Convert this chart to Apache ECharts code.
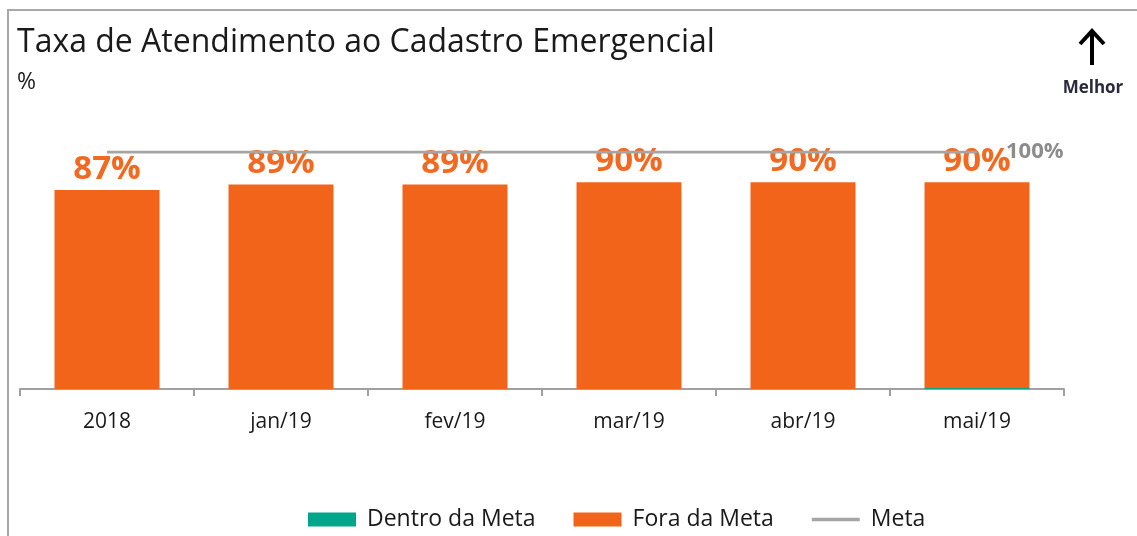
<!DOCTYPE html>
<html>
<head>
<meta charset="utf-8">
<script src="https://cdn.jsdelivr.net/npm/echarts@6/dist/echarts.min.js"></script>
<style>
  html, body { margin: 0; padding: 0; background: #fff; }
  #chart { width: 1137px; height: 536px; }
</style>
</head>
<body>
<div id="chart"></div>
<script>
// categorias do eixo x
const categories = ["2018", "jan/19", "fev/19", "mar/19", "abr/19", "mai/19"];
// valores das séries (%)
const dentroDaMeta = [0, 0, 0, 0, 0, 0.4];
const foraDaMeta = [87.0, 89.4, 89.4, 90.4, 90.4, 90.0];
const meta = [100, 100, 100, 100, 100, 100];

const FONT = "'Open Sans', sans-serif";
const chart = echarts.init(document.getElementById("chart"));

const option = {
  backgroundColor: "#fff",
  animation: false,
  title: [
    {
      text: "Taxa de Atendimento ao Cadastro Emergencial",
      left: 17,
      top: 27,
      padding: 0,
      textStyle: { fontFamily: FONT, fontSize: 32, fontWeight: "normal", color: "#1a1a1a" },
    },
    {
      text: "%",
      left: 17,
      top: 71,
      padding: 0,
      textStyle: { fontFamily: FONT, fontSize: 23, fontWeight: "normal", color: "#1a1a1a" },
    },
  ],
  graphic: [
    {
      // moldura
      type: "rect",
      z: -1,
      shape: { x: 8, y: 10, width: 1200, height: 600 },
      style: { fill: "none", stroke: "#a8a8a8", lineWidth: 2 },
    },
    {
      type: "line",
      shape: { x1: 1092, y1: 34, x2: 1092, y2: 65 },
      style: { stroke: "#000", lineWidth: 4 },
    },
    {
      type: "polyline",
      shape: { points: [[1080, 44], [1092, 31], [1104, 44]] },
      style: { stroke: "#000", lineWidth: 4, fill: null },
    },
    {
      type: "text",
      x: 1093,
      y: 88,
      style: {
        text: "Melhor",
        font: "bold 17px " + FONT,
        fill: "#2a2a3a",
        textAlign: "center",
        textVerticalAlign: "middle",
      },
    },
  ],
  legend: {
    left: 303,
    top: 503,
    itemWidth: 48,
    itemHeight: 14,
    itemGap: 38,
    textStyle: { fontFamily: FONT, fontSize: 23, color: "#1a1a1a", padding: [0, 0, 0, 6] },
    data: [
      { name: "Dentro da Meta", icon: "rect" },
      { name: "Fora da Meta", icon: "rect" },
      { name: "Meta", icon: "path://M0,0H44V3H0Z", itemStyle: { color: "#a5a5a5" } },
    ],
  },
  grid: { left: 20, right: 73, top: 152, bottom: 147 },
  xAxis: {
    type: "category",
    data: categories,
    axisLine: { lineStyle: { color: "#a0a0a0", width: 2 } },
    axisTick: { show: true, length: 7, lineStyle: { color: "#a0a0a0", width: 2 } },
    axisLabel: { fontFamily: FONT, fontSize: 21, color: "#1a1a1a", margin: 23 },
  },
  yAxis: [
    { type: "value", min: 0, max: 103.6, show: false },
    { type: "value", min: 0, max: 100, show: false },
  ],
  series: [
    {
      name: "Dentro da Meta",
      type: "bar",
      stack: "total",
      barWidth: 105,
      itemStyle: { color: "#00a68a" },
      data: dentroDaMeta,
    },
    {
      name: "Fora da Meta",
      type: "bar",
      stack: "total",
      barWidth: 105,
      itemStyle: { color: "#f26419" },
      label: {
        show: true,
        position: "top",
        distance: 4,
        fontFamily: FONT,
        fontSize: 33,
        fontWeight: "bold",
        color: "#f26a21",
        formatter: (p) => Math.round(p.value) + "%",
      },
      data: foraDaMeta,
    },
    {
      name: "Meta",
      type: "line",
      yAxisIndex: 1,
      symbol: "none",
      lineStyle: { color: "#a5a5a5", width: 3 },
      itemStyle: { color: "#a5a5a5" },
      endLabel: {
        show: true,
        distance: 29,
        fontFamily: FONT,
        fontSize: 22,
        fontWeight: "bold",
        color: "#8c8c8c",
        formatter: (p) => p.value + "%",
      },
      data: meta,
    },
  ],
};

chart.setOption(option);
</script>
</body>
</html>
